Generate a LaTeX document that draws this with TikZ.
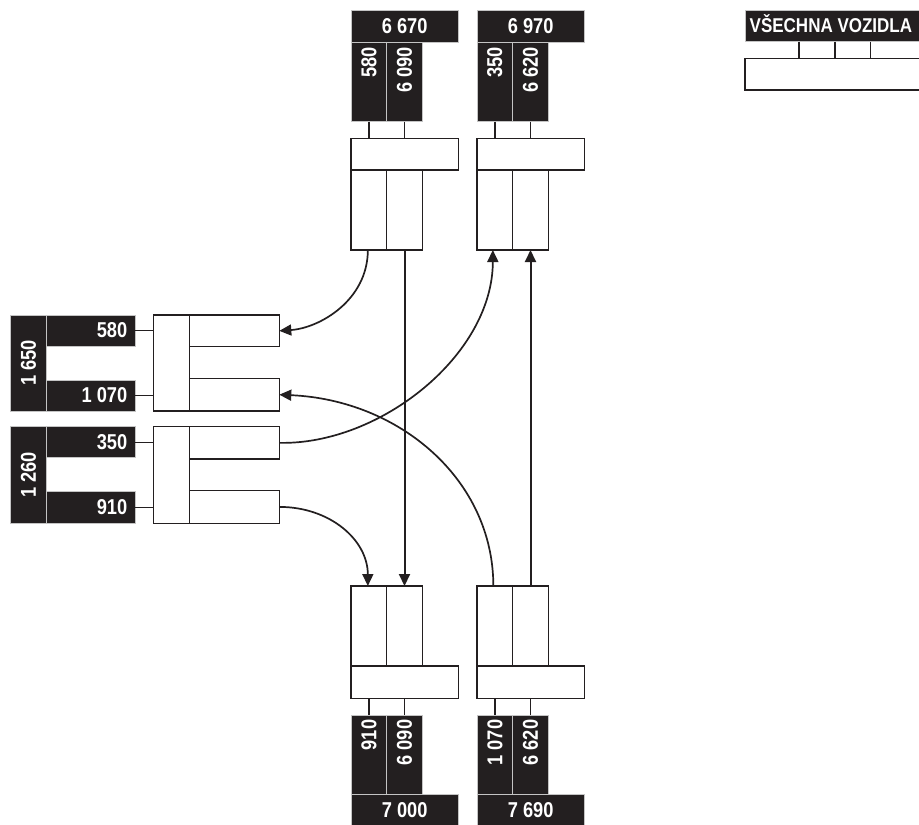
\documentclass[tikz,border=0pt]{standalone}
\usepackage{fontspec}
\newfontfamily\cond{Liberation Sans}[FakeStretch=0.85]
\usetikzlibrary{arrows.meta,calc}
\definecolor{blk}{HTML}{231F20}
\definecolor{edge}{HTML}{C4C4C4}
\begin{document}
\begin{tikzpicture}[x=1pt,y=-1pt,
  box/.style 2 args={minimum width=#1pt, minimum height=#2pt},
  wb/.style={draw=blk, line width=1.5pt, fill=white, inner sep=0pt, outer sep=0pt, rectangle},
  bk/.style={draw=edge, line width=1pt, fill=blk, inner sep=0pt, outer sep=0pt, rectangle,
     text=white, font=\cond\bfseries\fontsize{21.5}{21.5}\selectfont},
  vnum/.style={rotate=90, anchor=east, inner sep=0pt, text=white, font=\cond\bfseries\fontsize{21.5}{21.5}\selectfont},
  hnum/.style={anchor=east, inner sep=0pt, text=white, font=\cond\bfseries\fontsize{21.5}{21.5}\selectfont},
  ln/.style={draw=blk, line width=1.4pt},
  arr/.style={draw=blk, line width=2pt, -{Triangle[length=12pt,width=11pt]}},
  carr/.style={draw=blk, line width=1.7pt, -{Triangle[length=12pt,width=11pt]}}
]
\useasboundingbox (0,0) rectangle (919,825);

% ---------- top-left block ----------
\node[bk, box={107.3}{31.6}] (tlK) at (404.65,26.5) {6 670};
\node[bk, box={35.7}{79.4}] (tlBa) at (368.85,82) {};
\node[bk, box={35.6}{79.4}] (tlBb) at (404.5,82) {};
\node[vnum] (tlTa) at ($(tlBa.north)+(0,4.5)$) {580};
\node[vnum] (tlTb) at ($(tlBb.north)+(0,4.5)$) {6 090};
\node[wb, box={107.3}{31.7}] (tlW) at (404.65,154.15) {};
\node[wb, box={35.7}{80}] (tlCa) at (368.85,210) {};
\node[wb, box={35.6}{80}] (tlCb) at (404.5,210) {};
\draw[ln] (tlBa.south) -- (tlBa.south |- tlW.north);
\draw[ln] (tlBb.south) -- (tlBb.south |- tlW.north);

% ---------- top-right block ----------
\node[bk, box={107.3}{31.6}] (trK) at (530.65,26.5) {6 970};
\node[bk, box={35.7}{79.4}] (trBa) at (494.85,82) {};
\node[bk, box={35.6}{79.4}] (trBb) at (530.5,82) {};
\node[vnum] (trTa) at ($(trBa.north)+(0,4.5)$) {350};
\node[vnum] (trTb) at ($(trBb.north)+(0,4.5)$) {6 620};
\node[wb, box={107.3}{31.7}] (trW) at (530.65,154.15) {};
\node[wb, box={35.7}{80}] (trCa) at (494.85,210) {};
\node[wb, box={35.6}{80}] (trCb) at (530.5,210) {};
\draw[ln] (trBa.south) -- (trBa.south |- trW.north);
\draw[ln] (trBb.south) -- (trBb.south |- trW.north);

% ---------- bottom-left block ----------
\node[wb, box={35.7}{80}] (blCa) at (368.85,626) {};
\node[wb, box={35.6}{80}] (blCb) at (404.5,626) {};
\node[wb, box={107.3}{32.3}] (blW) at (404.65,682.15) {};
\node[bk, box={35.7}{79.3}] (blBa) at (368.85,754.65) {};
\node[bk, box={35.6}{79.3}] (blBb) at (404.5,754.65) {};
\node[vnum] (blTa) at ($(blBa.north)+(0,4.5)$) {910};
\node[vnum] (blTb) at ($(blBb.north)+(0,4.5)$) {6 090};
\node[bk, box={107.3}{31.4}] (blK) at (404.65,810) {7 000};
\draw[ln] (blBa.north |- blW.south) -- (blBa.north);
\draw[ln] (blBb.north |- blW.south) -- (blBb.north);

% ---------- bottom-right block ----------
\node[wb, box={35.7}{80}] (brCa) at (494.85,626) {};
\node[wb, box={35.6}{80}] (brCb) at (530.5,626) {};
\node[wb, box={107.3}{32.3}] (brW) at (530.65,682.15) {};
\node[bk, box={35.7}{79.3}] (brBa) at (494.85,754.65) {};
\node[bk, box={35.6}{79.3}] (brBb) at (530.5,754.65) {};
\node[vnum] (brTa) at ($(brBa.north)+(0,4.5)$) {1 070};
\node[vnum] (brTb) at ($(brBb.north)+(0,4.5)$) {6 620};
\node[bk, box={107.3}{31.4}] (brK) at (530.65,810) {7 690};
\draw[ln] (brBa.north |- brW.south) -- (brBa.north);
\draw[ln] (brBb.north |- brW.south) -- (brBb.north);

% ---------- left block 1 ----------
\node[bk, box={36.7}{96}] (l1K) at (28.35,363) {};
\node[bk, box={88.3}{31}] (l1Ba) at (90.85,330.5) {};
\node[bk, box={88.3}{31}] (l1Bb) at (90.85,395.5) {};
\node[vnum, anchor=center] (l1Tk) at (l1K) {1 650};
\node[hnum] (l1Ta) at ($(l1Ba.east)+(-7.5,0)$) {580};
\node[hnum] (l1Tb) at ($(l1Bb.east)+(-7.5,0)$) {1 070};
\node[wb, box={36}{96}] (l1V) at (171.3,363) {};
\node[wb, box={90}{31.7}] (l1Ca) at (234.3,330.85) {};
\node[wb, box={90}{32.7}] (l1Cb) at (234.3,394.65) {};
\draw[ln] (l1Ba.east) -- (l1Ba.east -| l1V.west);
\draw[ln] (l1Bb.east) -- (l1Bb.east -| l1V.west);

% ---------- left block 2 ----------
\node[bk, box={36.7}{96.6}] (l2K) at (28.35,475) {};
\node[bk, box={88.3}{31}] (l2Ba) at (90.85,442.3) {};
\node[bk, box={88.3}{31.6}] (l2Bb) at (90.85,507.5) {};
\node[vnum, anchor=center] (l2Tk) at (l2K) {1 260};
\node[hnum] (l2Ta) at ($(l2Ba.east)+(-7.5,0)$) {350};
\node[hnum] (l2Tb) at ($(l2Bb.east)+(-7.5,0)$) {910};
\node[wb, box={36}{96.6}] (l2V) at (171.3,475) {};
\node[wb, box={90}{32.3}] (l2Ca) at (234.3,442.85) {};
\node[wb, box={90}{32.8}] (l2Cb) at (234.3,506.9) {};
\draw[ln] (l2Ba.east) -- (l2Ba.east -| l2V.west);
\draw[ln] (l2Bb.east) -- (l2Bb.east -| l2V.west);

% ---------- legend ----------
\node[bk, box={180}{31.7}] (lgK) at (835,25.85) {};
\node[inner sep=0pt, anchor=base west, text=white, font=\cond\bfseries\fontsize{20}{20}\selectfont] (lgT) at (749.5,32.7) {VŠECHNA VOZIDLA};
\node[wb, box={180}{31.7}] (lgW) at (835,74.15) {};
\draw[ln] ($(lgK.south west)+(54,0)$) -- ($(lgW.north west)+(54,0)$);
\draw[ln] ($(lgK.south west)+(90,0)$) -- ($(lgW.north west)+(90,0)$);
\draw[ln] ($(lgK.south west)+(125.7,0)$) -- ($(lgW.north west)+(125.7,0)$);

% ---------- arrows ----------
\draw[carr] ($(tlCa.south)+(-1,0)$) .. controls (367.8,300) and (320,328) .. (l1Ca.east);
\draw[arr] (tlCb.south) -- (blCb.north);
\draw[carr] (l2Ca.east) .. controls (380,445) and (492.8,355) .. ($(trCa.south)+(-2,0)$);
\draw[carr] ($(brCa.north)+(-1.5,0)$) .. controls (493.3,480) and (400,400) .. (l1Cb.east);
\draw[arr] (brCb.north) -- (trCb.south);
\draw[carr] (l2Cb.east) .. controls (330,506.9) and (367.8,540) .. ($(blCa.north)+(-1,0)$);
\end{tikzpicture}
\end{document}
